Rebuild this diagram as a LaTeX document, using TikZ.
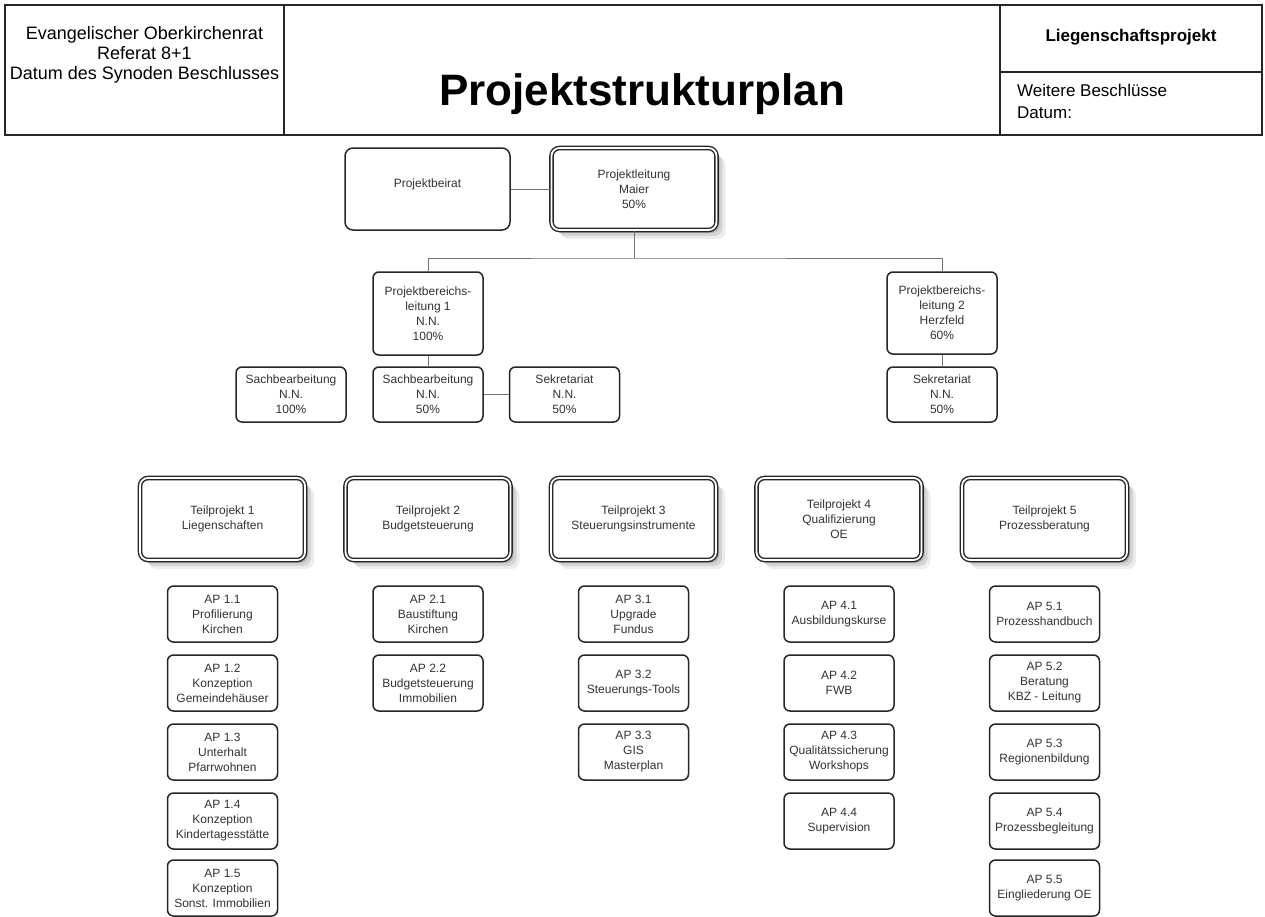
\documentclass[tikz,border=0pt]{standalone}
\usepackage{fontspec}
\setmainfont{Liberation Sans}
\usetikzlibrary{positioning, shadows}

\begin{document}
\begin{tikzpicture}[x=1pt, y=-1pt,
    box/.style={draw=black!85, line width=1.5pt, rounded corners=6pt, fill=white,
                minimum width=110pt, minimum height=56pt, align=center, inner sep=1pt,
                font=\fontsize{12}{15}\selectfont, text=black!80},
    bigbox/.style={box, minimum width=165pt, minimum height=82pt, rounded corners=8pt},
    leadbox/.style={bigbox, double=white, double distance=1.8pt, line width=1.4pt,
                    drop shadow={shadow xshift=9pt, shadow yshift=-9pt, fill=black, opacity=0.07},
                    drop shadow={shadow xshift=6pt, shadow yshift=-6pt, fill=black, opacity=0.1},
                    drop shadow={shadow xshift=3pt, shadow yshift=-3pt, fill=black, opacity=0.15}},
    link/.style={draw=black!55, line width=0.9pt},
    head/.style={font=\fontsize{18}{20}\selectfont, align=center}]
  \useasboundingbox[fill=white] (0,0) rectangle (1265,916);

  % header
  \draw[line width=1.3pt, black!85] (5,5) rectangle (1262,135);
  \draw[line width=1.3pt, black!85] (284,5) -- (284,135)
    (1000,5) -- (1000,135) (1000,72) -- (1262,72);
  \node[head] (org) at (144.5,55)
    {Evangelischer Oberkirchenrat\\Referat 8+1\\Datum des Synoden Beschlusses};
  \node[font=\fontsize{44}{50}\selectfont\bfseries, anchor=base] (title) at (642,105)
    {Projektstrukturplan};
  \node[font=\fontsize{17}{20}\selectfont\bfseries, anchor=base] (projekt) at (1131,41)
    {Liegenschaftsprojekt};
  \node[font=\fontsize{17}{20}\selectfont, anchor=base west, inner sep=0pt] (beschl) at (1017,96)
    {Weitere Beschlüsse};
  \node[font=\fontsize{17}{20}\selectfont, anchor=base west, inner sep=0pt] (datum) at (1017,118)
    {Datum:};

  % leitung
  \node[bigbox, text depth=12pt] (beirat) at (427.5,189) {Projektbeirat};
  \node[leadbox] (leitung) at (634,189) {Projektleitung\\Maier\\50\%};
  \node[box, minimum height=83pt] (pbl1) at (428,313.5)
    {Projektbereichs-\\leitung 1\\N.N.\\100\%};
  \node[box, minimum height=82pt] (pbl2) at (942,313)
    {Projektbereichs-\\leitung 2\\Herzfeld\\60\%};
  \node[box, minimum height=55pt] (sb1) at (291,394.5) {Sachbearbeitung\\N.N.\\100\%};
  \node[box, minimum height=55pt] (sb2) at (428,394.5) {Sachbearbeitung\\N.N.\\50\%};
  \node[box, minimum height=55pt] (sek1) at (564.5,394.5) {Sekretariat\\N.N.\\50\%};
  \node[box, minimum height=55pt] (sek2) at (942,394.5) {Sekretariat\\N.N.\\50\%};

  \coordinate (bus) at (634,258);
  \draw[link] (beirat) -- (leitung);
  \draw[link] (leitung) -- (bus);
  \draw[link] (pbl1.north) |- (bus) -| (pbl2.north);
  \draw[link] (pbl1) -- (sb2);
  \draw[link] (sb2) -- (sek1);
  \draw[link] (pbl2) -- (sek2);

  % teilprojekte
  \node[leadbox] (tp1) at (222.5,519) {Teilprojekt 1\\Liegenschaften};
  \node[leadbox] (tp2) at (428,519) {Teilprojekt 2\\Budgetsteuerung};
  \node[leadbox] (tp3) at (633.5,519) {Teilprojekt 3\\Steuerungsinstrumente};
  \node[leadbox] (tp4) at (839,519) {Teilprojekt 4\\Qualifizierung\\OE};
  \node[leadbox] (tp5) at (1044.5,519) {Teilprojekt 5\\Prozessberatung};

  % arbeitspakete
  \node[box] (ap11) at (222.5,614) {AP 1.1\\Profilierung\\Kirchen};
  \node[box] (ap12) at (222.5,683) {AP 1.2\\Konzeption\\Gemeindehäuser};
  \node[box] (ap13) at (222.5,752) {AP 1.3\\Unterhalt\\Pfarrwohnen};
  \node[box] (ap14) at (222.5,821) {AP 1.4\\Konzeption\\Kindertagesstätte};
  \node[box] (ap15) at (222.5,888) {AP 1.5\\Konzeption\\Sonst. Immobilien};

  \node[box] (ap21) at (428,614) {AP 2.1\\Baustiftung\\Kirchen};
  \node[box] (ap22) at (428,683) {AP 2.2\\Budgetsteuerung\\Immobilien};

  \node[box] (ap31) at (633.5,614) {AP 3.1\\Upgrade\\Fundus};
  \node[box] (ap32) at (633.5,683) {AP 3.2\\Steuerungs-Tools};
  \node[box] (ap33) at (633.5,752) {AP 3.3\\GIS\\Masterplan};

  \node[box] (ap41) at (839,614) {AP 4.1\\Ausbildungskurse};
  \node[box] (ap42) at (839,683) {AP 4.2\\FWB};
  \node[box] (ap43) at (839,752) {AP 4.3\\Qualitätssicherung\\Workshops};
  \node[box] (ap44) at (839,821) {AP 4.4\\Supervision};

  \node[box] (ap51) at (1044.5,614) {AP 5.1\\Prozesshandbuch};
  \node[box] (ap52) at (1044.5,683) {AP 5.2\\Beratung\\KBZ - Leitung};
  \node[box] (ap53) at (1044.5,752) {AP 5.3\\Regionenbildung};
  \node[box] (ap54) at (1044.5,821) {AP 5.4\\Prozessbegleitung};
  \node[box] (ap55) at (1044.5,888) {AP 5.5\\Eingliederung OE};
\end{tikzpicture}
\end{document}
